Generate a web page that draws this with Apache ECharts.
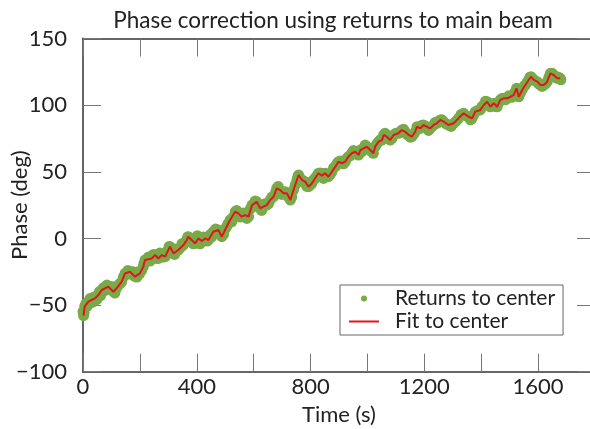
<!DOCTYPE html>
<html>
<head>
<meta charset="utf-8">
<script src="https://cdn.jsdelivr.net/npm/echarts@6/dist/echarts.min.js"></script>
<style>
html,body{margin:0;padding:0;background:#fff;}
#chart{width:590px;height:429px;}
</style>
</head>
<body>
<div id="chart"></div>
<script>
// Fit to center (red line): time (s), phase (deg)
const fitTime = [2,6,19,42,54,66,89,107,118,136,148,165,183,200,212,218,242,253,265,277,289,300,306,318,335,353,365,370,382,394,406,418,430,441,458,476,488,505,517,523,535,546,558,570,582,594,611,623,634,646,658,670,681,693,705,717,729,740,752,758,770,781,793,805,816,828,840,851,863,875,887,898,910,922,933,945,957,969,975,986,998,1010,1021,1027,1039,1051,1057,1068,1080,1092,1109,1121,1133,1145,1156,1168,1174,1186,1197,1209,1221,1233,1244,1256,1268,1285,1303,1320,1338,1356,1368,1379,1397,1409,1421,1432,1444,1456,1467,1479,1491,1503,1514,1524,1532,1544,1555,1567,1575,1585,1597,1608,1620,1632,1643,1655,1667,1678];
const fitPhase = [-58,-51,-47.5,-45,-42.5,-38.7,-36.2,-40,-37.4,-32.5,-26.2,-25,-28.7,-26.2,-21.2,-16.2,-15,-12.5,-15,-12.5,-13.7,-8.7,-6.2,-11.2,-8.7,-5,-1.2,1.3,-1.2,-3.7,0,-2,0,-1.2,5,6.3,1.3,8.8,13.8,12.5,20,18.8,16.3,17.5,16.3,25,27.5,22.6,23.8,25,28.8,31.3,37.6,36.3,33.8,33.8,28.8,36.3,43.8,47.6,43.8,42.6,38.8,41.4,45.1,48.9,47,48.9,46.3,50,53.8,57.6,56.4,57.6,61.3,63.9,65,62.6,66.3,67.6,68.8,66.3,63.9,68.8,72.6,73.8,77.6,76.3,73.8,77.6,78.9,81.3,80,77.6,76.3,80,83.8,82.6,85.1,83.8,82.6,85.1,86.4,88.9,87.6,85.1,86.4,90.1,93.9,91.3,90.1,95.1,96.4,100.1,102.6,98.8,101.4,98.8,103.9,105.1,105.1,106.3,107.6,112.6,106.3,111.4,115.1,118.9,121.3,118.9,117.6,115.1,115.1,117.6,123.9,122.6,120.1,120.1];

// Returns to center (green points): time (s), phase (deg)
const retTime = [0,4,10,14,25,32,38,48,58,62,72,78,84,95,100,112,124,130,142,152,158,170,176,190,195,206,214,224,230,236,248,258,270,282,294,303,312,322,328,342,348,358,368,376,388,398,402,412,424,436,448,452,466,470,482,494,500,510,520,528,540,552,564,576,588,600,605,617,628,640,652,664,676,686,699,711,722,734,746,755,764,776,787,799,810,822,834,846,857,869,881,892,904,916,927,939,951,963,980,992,1004,1015,1033,1045,1062,1074,1086,1100,1115,1127,1139,1150,1162,1180,1192,1203,1215,1227,1238,1250,1262,1276,1294,1312,1329,1347,1362,1374,1388,1403,1415,1426,1438,1450,1462,1473,1485,1497,1509,1519,1528,1538,1550,1561,1571,1580,1591,1602,1614,1626,1638,1649,1661,1672,1680];
const retPhase = [-55,-56,-49,-51,-45,-48,-44,-46,-40,-43,-37,-39,-35,-38,-36,-41,-35,-34,-29,-27,-24,-27,-25,-29,-25,-24,-19,-17,-14,-17,-12,-15,-11,-14,-10,-6,-10,-12,-8,-7,-4,-3,1,-2,-4,-1,2,-4,1,-2,3,1,7,4,4,3,7,11,14,16,21,16,19,15,22,24,28,24,21,26,26,31,34,39,33,35,31,31,40,46,45,42,39,40,44,47,49,45,48,48,53,56,58,56,60,62,66,63,65,70,67,65,71,74,79,75,75,79,80,82,78,76,78,83,85,83,81,84,87,88,89,86,84,88,93,92,89,93,96,99,103,100,100,99,102,105,104,107,106,110,109,109,114,117,121,120,118,116,114,116,121,124,121,121,119];

const yTicks = [-100, -50, 0, 50, 100, 150];
const xLabelTicks = [0, 400, 800, 1200, 1600];

const fitData = fitTime.map((t, i) => [t, fitPhase[i]]);
const retData = retTime.map((t, i) => [t, retPhase[i]]);
const retData2 = fitTime.map((t, i) => [t, fitPhase[i]]);

const FONT = 'Lato';
const chart = echarts.init(document.getElementById('chart'), null, {renderer: 'canvas'});
const tickStyle = {show: true, inside: true, length: 18, lineStyle: {color: '#777', width: 1}};
chart.setOption({
  animation: false,
  backgroundColor: '#fff',
  title: {
    text: 'Phase correction using returns to main beam',
    left: 328, top: 4, textAlign: 'center',
    textStyle: {fontFamily: FONT, fontSize: 22.5, fontWeight: 'normal', color: '#222'}
  },
  grid: {left: 83, top: 38.5, right: -5, bottom: 57.3, containLabel: false, outerBoundsMode: 'none'},
  legend: {
    orient: 'vertical', left: 340, top: 285,
    padding: [3, 8, 3, 9],
    borderColor: '#666', borderWidth: 1, backgroundColor: '#fff',
    itemWidth: 30, itemHeight: 6, itemGap: 2,
    textStyle: {fontFamily: FONT, fontSize: 21, color: '#222', padding: [0, 0, 0, 11]},
    data: [
      {name: 'Returns to center', icon: 'circle'},
      {name: 'Fit to center', icon: 'path://M0,0 L30,0 L30,2 L0,2 Z'}
    ]
  },
  xAxis: [{
    type: 'value', min: 0, max: 1800, interval: 200,
    name: 'Time (s)', nameLocation: 'middle', nameGap: 32, nameMoveOverlap: false,
    nameTextStyle: {fontFamily: FONT, fontSize: 22, color: '#222'},
    axisLine: {show: true, onZero: false, lineStyle: {color: '#333', width: 1.5}},
    axisTick: tickStyle,
    axisLabel: {
      fontFamily: FONT, fontSize: 22, color: '#222', margin: 4,
      formatter: v => xLabelTicks.indexOf(v) >= 0 ? String(v) : ''
    },
    splitLine: {show: false}
  }, {
    type: 'value', position: 'top', min: 0, max: 1800, interval: 200,
    axisLine: {show: true, onZero: false, lineStyle: {color: '#333', width: 1.5}},
    axisTick: tickStyle, axisLabel: {show: false}, splitLine: {show: false}
  }],
  yAxis: [{
    type: 'value', min: -100, max: 150, interval: 50,
    name: 'Phase (deg)', nameLocation: 'middle', nameGap: 52, nameRotate: 90, nameMoveOverlap: false,
    nameTextStyle: {fontFamily: FONT, fontSize: 22, color: '#222'},
    axisLine: {show: true, onZero: false, lineStyle: {color: '#666', width: 2}},
    axisTick: tickStyle,
    axisLabel: {
      fontFamily: FONT, fontSize: 22, color: '#222', margin: 16,
      formatter: v => yTicks.indexOf(v) >= 0 ? String(v).replace('-', '\u2212') : ''
    },
    splitLine: {show: false}
  }, {
    type: 'value', position: 'right', min: -100, max: 150, interval: 50,
    axisLine: {show: true, onZero: false, lineStyle: {color: '#333', width: 1.5}},
    axisTick: tickStyle, axisLabel: {show: false}, splitLine: {show: false}
  }],
  series: [{
    name: 'Returns to center', type: 'scatter', xAxisIndex: 0, yAxisIndex: 0,
    data: retData, symbolSize: 11,
    itemStyle: {color: '#7aaa48', opacity: 1}
  }, {
    name: 'Returns to center', type: 'scatter', xAxisIndex: 0, yAxisIndex: 0,
    data: retData2, symbolSize: 11,
    itemStyle: {color: '#7aaa48', opacity: 1}
  }, {
    name: 'Fit to center', type: 'line', xAxisIndex: 0, yAxisIndex: 0,
    data: fitData, symbol: 'none',
    lineStyle: {color: '#e3141b', width: 2},
    itemStyle: {color: '#e3141b'}
  }]
});
</script>
</body>
</html>
